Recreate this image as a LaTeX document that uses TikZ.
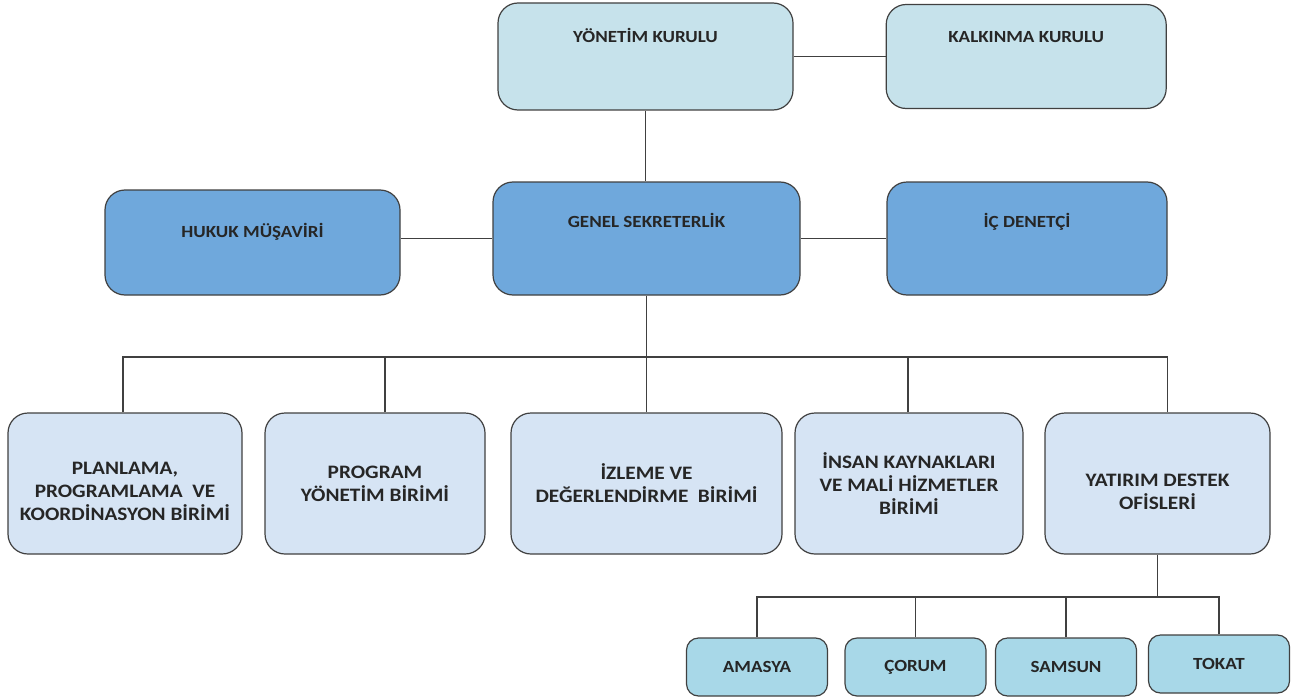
\documentclass[tikz,border=0pt]{standalone}
\usepackage{fontspec}
\setmainfont{Carlito}[FakeStretch=1.12]
\usetikzlibrary{positioning}
\definecolor{topfill}{HTML}{C6E2EB}
\definecolor{midfill}{HTML}{6FA8DC}
\definecolor{unitfill}{HTML}{D6E4F4}
\definecolor{cityfill}{HTML}{A8D8E8}
\definecolor{edgecol}{HTML}{404040}
\definecolor{textcol}{HTML}{262626}
\newcommand{\lifttext}[2]{\raisebox{#1}[0pt][0pt]{#2}}
\begin{document}
\begin{tikzpicture}
	[x=1pt,y=-1pt,
	box/.style={rectangle,draw=edgecol,line width=1.2pt,rounded corners=20pt,text=textcol,font=\fontsize{17}{21}\selectfont\bfseries},
	board/.style={box,fill=topfill},
	office/.style={box,fill=midfill},
	unit/.style={box,fill=unitfill,align=center,minimum height=141pt,font=\fontsize{19}{23}\selectfont\bfseries},
	city/.style={box,fill=cityfill,rounded corners=12pt,minimum width=141pt,minimum height=58pt,font=\fontsize{17}{21}\selectfont\bfseries},
	link/.style={draw=edgecol,line width=1.2pt}]
	\useasboundingbox (0,0) rectangle (1297,698);
	% boards
	\node[board,minimum width=295pt,minimum height=107pt] (yk) at (645.5,56.5) {\lifttext{14pt}{YÖNETİM KURULU}};
	\node[board,minimum width=280pt,minimum height=104pt] (kk) [right=92pt of yk] {\lifttext{14pt}{KALKINMA KURULU}};
	% secretariat
	\node[office,minimum width=307pt,minimum height=113pt] (gs) at (646.5,238.5) {\lifttext{11pt}{GENEL SEKRETERLİK}};
	\node[office,minimum width=295pt,minimum height=105pt] (hm) at (252.5,242.5) {\lifttext{5pt}{HUKUK MÜŞAVİRİ}};
	\node[office,minimum width=280pt,minimum height=113pt] (id) at (1027,238.5) {\lifttext{11pt}{İÇ DENETÇİ}};
	% units
	\node[unit,minimum width=234pt] (pk) at (125,483.5) {\lifttext{-14pt}{\begin{tabular}{@{}c@{}}PLANLAMA,\\PROGRAMLAMA~ VE\\KOORDİNASYON BİRİMİ\end{tabular}}};
	\node[unit,minimum width=220pt] (pb) at (375,483.5) {PROGRAM\\YÖNETİM BİRİMİ};
	\node[unit,minimum width=271pt] (ib) at (646.5,483.5) {İZLEME VE\\DEĞERLENDİRME~ BİRİMİ};
	\node[unit,minimum width=228pt] (ik) at (909,483.5) {İNSAN KAYNAKLARI\\VE MALİ HİZMETLER\\BİRİMİ};
	\node[unit,minimum width=225pt] (yd) at (1157.5,483.5) {\lifttext{-14pt}{\begin{tabular}{@{}c@{}}YATIRIM DESTEK\\OFİSLERİ\end{tabular}}};
	% investment offices
	\node[city] (am) at (757,667) {AMASYA};
	\node[city] (co) at (915.5,667) {ÇORUM};
	\node[city] (sa) at (1066,667) {SAMSUN};
	\node[city] (tk) at (1219,664) {TOKAT};
	\coordinate (bus) at (gs.south |- 0,357);
	\coordinate (sub) at (yd.south |- 0,597);
	\draw[link] (yk.east) -- (kk.west);
	\draw[link] (yk.south) -- (yk.south |- gs.north);
	\draw[link] (hm.east |- gs.west) -- (gs.west);
	\draw[link] (gs.east) -- (id.west);
	\draw[link] (gs.south) -- (bus);
	\foreach \n/\dx in {pk/-2,pb/10,ib/0,ik/-1,yd/10}
		\draw[link] ([xshift=\dx pt]\n.north) |- (bus);
	\draw[link] (yd.south) -- (sub);
	\foreach \n in {am,co,sa,tk}
		\draw[link] (\n.north) |- (sub);
\end{tikzpicture}
\end{document}
